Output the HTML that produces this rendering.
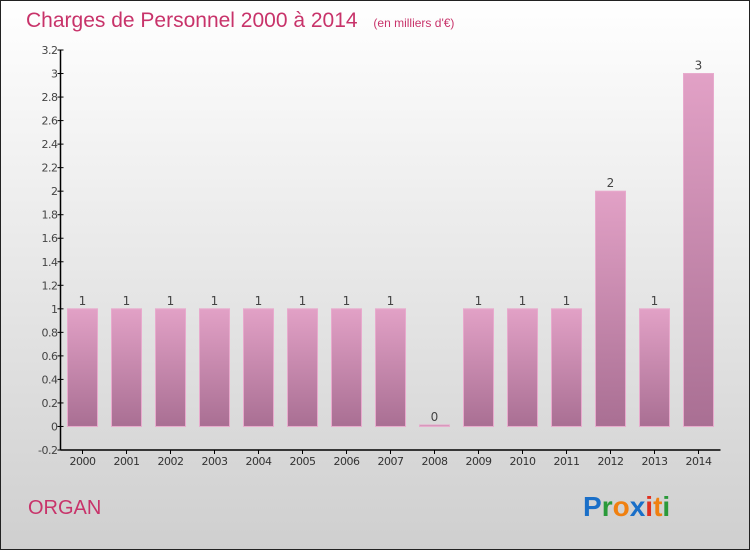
<!DOCTYPE html>
<html><head><meta charset="utf-8"><style>
body{margin:0}
svg{display:block;font-family:"DejaVu Sans","Liberation Sans",sans-serif}
</style></head><body>
<svg width="750" height="550" viewBox="0 0 750 550">
<defs>
<linearGradient id="bg" x1="0" y1="0" x2="0" y2="1"><stop offset="0" stop-color="#ffffff"/><stop offset="1" stop-color="#cfcfcf"/></linearGradient>
<linearGradient id="bar" x1="0" y1="0" x2="0" y2="1"><stop offset="0" stop-color="#e2a1c6"/><stop offset="1" stop-color="#a96f93"/></linearGradient>
</defs>
<rect x="0.5" y="0.5" width="749" height="549" fill="url(#bg)" stroke="#222"/>
<text x="26" y="27" font-size="21" fill="#c8336a" font-family="Liberation Sans, sans-serif">Charges de Personnel 2000 à 2014 <tspan font-size="12" dx="10">(en milliers d'€)</tspan></text>
<g id="yaxis"></g>
<g id="bars"></g>
<g id="xaxis"></g>
<text x="28" y="514" font-size="20" fill="#c8336a" font-family="Liberation Sans, sans-serif">ORGAN</text>
<g font-family="Liberation Sans, sans-serif" font-size="28" font-weight="bold">
<text x="583" y="516"><tspan fill="#1a6fc8">P</tspan><tspan fill="#2a9a3a">r</tspan><tspan fill="#f08010">o</tspan><tspan fill="#1a6fc8">x</tspan><tspan fill="#e03020">i</tspan><tspan fill="#f08010">t</tspan><tspan fill="#2a9a3a">i</tspan></text>
</g>
</svg>
<script>
const categories=["2000","2001","2002","2003","2004","2005","2006","2007","2008","2009","2010","2011","2012","2013","2014"];
const values=[1,1,1,1,1,1,1,1,0,1,1,1,2,1,3];
const valueLabels=["1","1","1","1","1","1","1","1","0","1","1","1","2","1","3"];
const yTicks=[-0.2,0,0.2,0.4,0.6,0.8,1,1.2,1.4,1.6,1.8,2,2.2,2.4,2.6,2.8,3,3.2];
const NS="http://www.w3.org/2000/svg";
const x0=60.5,bandW=44,yMin=-0.2,yMax=3.2,yTop=50,yBot=450;
const y=v=>yBot-(v-yMin)/(yMax-yMin)*(yBot-yTop);
const xc=i=>x0+bandW*(i+0.5);
function mk(tag,attrs,parent){const e=document.createElementNS(NS,tag);for(const k in attrs)e.setAttribute(k,attrs[k]);parent.appendChild(e);return e;}
const ya=document.getElementById('yaxis'),xa=document.getElementById('xaxis'),bg=document.getElementById('bars');
const yl=mk('line',{x1:x0,x2:x0,y1:yTop,y2:yBot,stroke:'#000','stroke-width':1.5},ya);


yTicks.forEach(t=>{
 const l=mk('line',{x1:x0-3,x2:x0+3,y1:y(t),y2:y(t),stroke:'#000'},ya);
 
 
 const tx=mk('text',{x:x0-3,y:y(t)+4,'text-anchor':'end','font-size':11,fill:'#444','letter-spacing':'-0.5'},ya);
 
 
 tx.textContent=String(Math.round(t*10)/10);
});
const xl=mk('line',{x1:x0,x2:x0+bandW*categories.length,y1:yBot,y2:yBot,stroke:'#000','stroke-width':1.5},xa);


categories.forEach((c,i)=>{
 const l=mk('line',{x1:xc(i),x2:xc(i),y1:yBot,y2:yBot+4,stroke:'#000'},xa);
 
 
 const tx=mk('text',{x:xc(i),y:yBot+15,'text-anchor':'middle','font-size':11,fill:'#333','letter-spacing':'-0.5'},xa);
 
 
 tx.textContent=c;
 const v=values[i];
 const top=Math.min(y(v),y(0)-1.5),h=Math.max(y(0)-top,1.5);
 const r=mk('rect',{x:xc(i)-15,y:top,width:30,height:h,fill:'url(#bar)',stroke:'#e8aacd','stroke-width':1},bg);
 
 
 const vl=mk('text',{x:xc(i),y:top-4,'text-anchor':'middle','font-size':12,fill:'#444'},bg);
 
 
 vl.textContent=valueLabels[i];
});
</script>
</body></html>
